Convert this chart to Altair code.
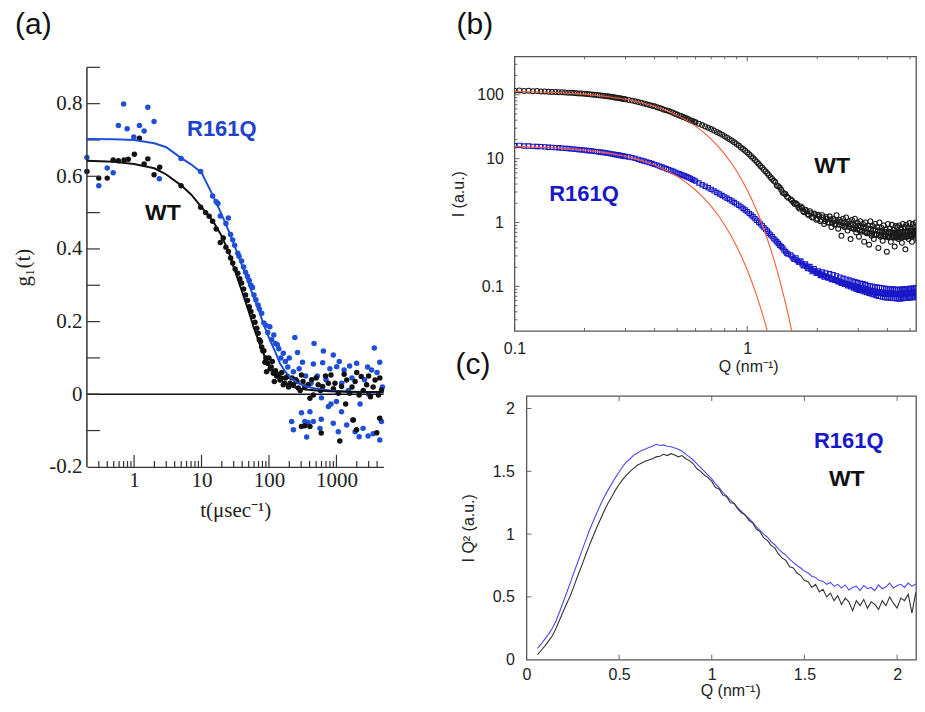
import altair as alt
import pandas as pd

# ================= Panel (a): DLS correlation g1(t) =================
a_t_wt = [0.2, 0.3, 0.4, 0.49, 0.585, 0.71, 0.82, 1.01, 1.2, 1.41, 1.6, 1.98, 2.4, 4.97, 9.7, 11.5, 13, 14.6, 16.5, 19,
          21, 23, 25, 27, 29, 31.5, 34.5, 37, 39.3, 42, 45, 48, 51, 54, 58.5, 62, 66, 69, 72, 75,
          78, 81, 84, 87, 90, 92, 95, 100, 104, 108, 112, 116, 120, 125, 130, 138, 146, 150, 155, 163,
          170, 175, 188, 195, 205, 220, 230, 250, 260, 272, 290, 303, 303, 320, 340, 340, 380, 405, 405, 430,
          455, 500, 535, 580, 595, 625, 690, 760, 830, 900, 950, 1065, 1120, 1190, 1300, 1370, 1420, 1570, 1700, 1780,
          1890, 1990, 2000, 2170, 2330, 2500, 2800, 3000, 3200, 3500, 3740, 3960, 4200, 4390, 4400, 4650]
a_g_wt = [0.613, 0.595, 0.595, 0.645, 0.643, 0.645, 0.647, 0.661, 0.705, 0.634, 0.648, 0.604, 0.625, 0.574, 0.515, 0.50, 0.49, 0.476, 0.455, 0.418,
          0.43, 0.405, 0.393, 0.375, 0.361, 0.345, 0.333, 0.318, 0.306, 0.29, 0.273, 0.258, 0.241, 0.228, 0.214, 0.198, 0.182, 0.168, 0.150, 0.145,
          0.13, 0.12, 0.12, 0.088, 0.10, 0.062, 0.085, 0.10, 0.07, 0.075, 0.09, 0.058, 0.035, 0.065, 0.05, 0.055, 0.039, 0.045, 0.06, 0.026,
          0.03, 0.045, 0.049, 0.02, 0.03, 0.045, 0.026, 0.04, 0.035, 0.017, 0.01, 0.053, -0.089, 0.035, 0.02, -0.087, 0.026, -0.011, -0.089, 0.04,
          -0.002, 0.045, 0.026, 0.01, -0.107, 0.021, 0.05, 0.030, 0.053, 0.015, 0.030, 0.003, -0.129, 0.021, 0.055, -0.027, 0.039, 0.003, 0.02, -0.071,
          0.035, -0.098, 0.06, -0.002, 0.049, 0.01, 0.026, 0.05, -0.007, 0.02, 0.039, -0.106, -0.002, -0.066, 0.045, 0.012]
a_t_mut = [0.2, 0.3, 0.4, 0.49, 0.585, 0.7, 0.79, 0.99, 1.2, 1.41, 1.6, 1.98, 2.37, 4.97, 9.7, 14.6, 16.5, 17.5, 19, 23,
           25, 27, 29, 31, 34.5, 36, 39.3, 42, 45, 48, 51, 54, 57, 60, 64, 69, 72, 78, 84, 90,
           96, 103, 110, 118, 125, 133, 140, 150, 163, 175, 190, 200, 217, 230, 230, 242, 265, 280, 303, 314,
           340, 350, 362, 380, 405, 420, 455, 455, 466, 520, 570, 595, 600, 625, 640, 700, 760, 800, 830, 897,
           898, 1000, 1010, 1065, 1100, 1190, 1200, 1300, 1420, 1500, 1570, 1700, 1740, 1890, 1990, 2170, 2240, 2480, 2600, 2900,
           2950, 3000, 3320, 3500, 3640, 4000, 4390, 4390, 4650, 4800]
a_g_mut = [0.652, 0.574, 0.623, 0.610, 0.740, 0.799, 0.731, 0.708, 0.740, 0.725, 0.790, 0.751, 0.593, 0.649, 0.613, 0.546, 0.53, 0.525, 0.491, 0.47,
           0.485, 0.44, 0.425, 0.41, 0.388, 0.38, 0.367, 0.35, 0.336, 0.325, 0.313, 0.30, 0.294, 0.273, 0.26, 0.246, 0.235, 0.223, 0.196, 0.19,
           0.17, 0.186, 0.15, 0.163, 0.14, 0.136, 0.125, 0.10, 0.113, 0.09, 0.075, 0.10, -0.075, 0.062, -0.098, 0.156, 0.115, 0.07, -0.051, 0.088,
           -0.075, 0.05, -0.118, -0.078, -0.048, 0.03, 0.083, -0.075, 0.140, 0.05, -0.094, -0.069, -0.01, 0.087, 0.119, 0.04, -0.034, 0.07, -0.027, -0.080,
           0.108, -0.02, 0.076, -0.103, 0.09, -0.048, 0.03, 0.067, -0.085, 0.01, 0.078, 0.045, -0.071, -0.103, 0.085, -0.117, -0.027, -0.094, 0.04, 0.075,
           -0.115, 0.0, 0.067, -0.109, 0.127, 0.06, 0.088, -0.126, -0.075, 0.02]
a_fit_t = [0.2, 0.5, 1, 2, 3, 5, 7, 10, 15, 20, 26, 30, 37, 45, 52, 60, 73, 85, 103, 125,
           145, 175, 210, 260, 350, 500, 800, 1500, 3000, 5000]
a_fit_mut = [0.703, 0.702, 0.700, 0.691, 0.680, 0.650, 0.633, 0.610, 0.544, 0.494, 0.444, 0.415, 0.370, 0.330, 0.296, 0.265, 0.223, 0.188, 0.150, 0.115,
             0.085, 0.062, 0.045, 0.032, 0.022, 0.015, 0.010, 0.007, 0.006, 0.005]
a_fit_wt = [0.643, 0.640, 0.634, 0.622, 0.605, 0.575, 0.550, 0.515, 0.475, 0.435, 0.385, 0.350, 0.300, 0.254, 0.219, 0.181, 0.138, 0.107, 0.075, 0.052,
            0.040, 0.030, 0.022, 0.017, 0.013, 0.010, 0.008, 0.007, 0.006, 0.006]
a_xlabels = [1, 10, 100, 1000]
a_xminor = [0.3, 0.4, 0.5, 0.6, 0.7, 0.8, 0.9, 2, 3, 4, 5, 6, 7, 8, 9, 20, 30, 40, 50, 60, 70, 80, 90,
            200, 300, 400, 500, 600, 700, 800, 900, 2000, 3000, 4000]
a_ylabels = [-0.2, 0, 0.2, 0.4, 0.6, 0.8]
a_yticks = [-0.1, 0, 0.1, 0.2, 0.3, 0.4, 0.5, 0.6, 0.7, 0.8, 0.9]

# ================= Panel (b): SAXS I(Q), log-log =================
b_q1 = [0.100, 0.105, 0.110, 0.115, 0.120, 0.125, 0.130, 0.135, 0.140, 0.145, 0.150, 0.155, 0.160, 0.165, 0.170, 0.175, 0.180, 0.185, 0.190, 0.195,
        0.200, 0.205, 0.210, 0.215, 0.220, 0.225, 0.230, 0.235, 0.240, 0.245, 0.250, 0.255, 0.260, 0.265, 0.270, 0.275, 0.280, 0.285, 0.290, 0.295, 0.300]
b_wt1 = [116, 117, 115, 116, 114, 115, 113, 113, 112, 111, 111, 110, 110, 109, 108, 108, 107, 106, 105, 105,
         104, 103, 102, 101, 100, 99.5, 98.5, 97.5, 97, 96, 95, 94, 93, 92, 91, 90, 89, 88, 87, 86, 85]
b_mut1 = [16.0, 16.1, 15.8, 15.8, 15.6, 15.5, 15.4, 15.3, 15.1, 15.0, 14.9, 14.8, 14.6, 14.5, 14.4, 14.2, 14.1, 14.0, 13.8, 13.7,
          13.6, 13.4, 13.3, 13.2, 13.0, 12.9, 12.8, 12.6, 12.5, 12.4, 12.2, 12.1, 11.9, 11.8, 11.6, 11.5, 11.4, 11.2, 11.1, 10.9, 10.8]
b_q2 = [0.31, 0.32, 0.33, 0.34, 0.35, 0.36, 0.37, 0.38, 0.39, 0.40, 0.41, 0.42, 0.43, 0.44, 0.45, 0.46, 0.47, 0.48, 0.49, 0.50,
        0.51, 0.52, 0.53, 0.54, 0.55, 0.56, 0.57, 0.58, 0.59, 0.60]
b_wt2 = [83, 81, 79, 77, 75, 73, 71, 69, 67.5, 66, 64, 62, 60.5, 58.5, 57, 55.5, 54, 52.5, 50.5, 49,
         47.5, 46.5, 45, 44, 42.5, 41.5, 40, 39, 38, 37]
b_mut2 = [10.6, 10.35, 10.1, 9.75, 9.45, 9.2, 8.9, 8.65, 8.4, 8.15, 7.9, 7.65, 7.4, 7.15, 6.95, 6.75, 6.55, 6.35, 6.15, 5.95,
          5.8, 5.65, 5.5, 5.35, 5.2, 5.05, 4.9, 4.75, 4.6, 4.45]
b_q3 = [0.62, 0.64, 0.66, 0.68, 0.70, 0.72, 0.74, 0.76, 0.78, 0.80, 0.82, 0.84, 0.86, 0.88, 0.90, 0.92, 0.94, 0.96, 0.98, 1.00,
        1.02, 1.04, 1.06, 1.08, 1.10, 1.12, 1.14, 1.16, 1.18, 1.20, 1.22, 1.24, 1.26, 1.28, 1.30, 1.32, 1.34, 1.36, 1.38, 1.40,
        1.42, 1.44, 1.46, 1.48, 1.50]
b_wt3 = [35.2, 33.5, 32, 30.5, 29, 27.6, 26.2, 24.9, 23.7, 22.5, 21.3, 20.2, 19.1, 18, 17, 16, 15, 14.1, 13.3, 12.5,
         11.7, 10.9, 10.2, 9.5, 8.9, 8.3, 7.7, 7.2, 6.7, 6.3, 5.9, 5.5, 5.1, 4.8, 4.5, 4.3, 3.8, 3.7, 3.55, 3.25,
         2.95, 2.85, 2.8, 2.55, 2.45]
b_mut3 = [4.15, 3.9, 3.7, 3.5, 3.3, 3.12, 2.95, 2.8, 2.65, 2.52, 2.4, 2.28, 2.17, 2.06, 1.96, 1.86, 1.76, 1.66, 1.57, 1.48,
          1.39, 1.31, 1.23, 1.15, 1.08, 1.01, 0.95, 0.89, 0.83, 0.78, 0.73, 0.68, 0.64, 0.60, 0.56, 0.53, 0.50, 0.47, 0.44, 0.42,
          0.40, 0.37, 0.35, 0.33, 0.32]
b_q4 = [1.54, 1.58, 1.62, 1.66, 1.70, 1.74, 1.78, 1.82, 1.86, 1.90, 1.94, 1.98, 2.02, 2.06, 2.10, 2.14, 2.18, 2.22, 2.26, 2.30,
        2.34, 2.38, 2.42, 2.46, 2.50, 2.54, 2.58, 2.62, 2.66, 2.70, 2.74, 2.78, 2.82, 2.86, 2.90, 2.94, 2.98, 3.02, 3.06, 3.10,
        3.14, 3.18, 3.22, 3.26, 3.30, 3.34, 3.38, 3.42, 3.46, 3.50, 3.54, 3.58, 3.62, 3.66, 3.70, 3.74, 3.78, 3.82, 3.86, 3.90,
        3.94, 3.98, 4.02, 4.06, 4.10, 4.14, 4.18, 4.22, 4.26, 4.30, 4.34, 4.38, 4.42, 4.46, 4.50, 4.54, 4.58, 4.62, 4.66, 4.70,
        4.74, 4.78, 4.82, 4.86, 4.90, 4.94, 4.98, 5.02, 5.06, 5.10, 5.14, 5.18, 5.22, 5.26, 5.30, 5.34, 5.38, 5.42, 5.46, 5.50,
        5.54, 5.58, 5.62, 5.66, 5.70, 5.74, 5.78]
b_wt4 = [2.3, 2.05, 2.0, 1.72, 1.78, 1.5, 1.58, 1.35, 1.5, 1.2, 1.38, 1.1, 1.32, 1.05, 1.3, 0.95, 1.22, 1.0, 1.25, 0.85,
         1.15, 0.92, 1.3, 0.8, 1.1, 0.62, 1.15, 0.85, 1.2, 0.75, 1.05, 0.55, 1.1, 0.8, 1.15, 0.7, 0.98, 0.6, 1.05, 0.72,
         0.95, 0.5, 1.0, 0.68, 0.9, 0.45, 1.05, 0.62, 0.88, 0.55, 0.95, 0.66, 0.85, 0.4, 1.0, 0.6, 0.82, 0.52, 0.9, 0.65,
         0.78, 0.35, 0.95, 0.58, 0.8, 0.5, 0.92, 0.63, 0.78, 0.42, 0.88, 0.6, 0.85, 0.55, 0.9, 0.65, 0.8, 0.48, 0.95, 0.62,
         0.85, 0.38, 0.92, 0.6, 0.82, 0.55, 0.98, 0.66, 0.8, 0.5, 0.95, 0.68, 0.85, 0.6, 1.0, 0.7, 0.88, 0.52, 0.95, 0.68,
         0.85, 0.62, 0.98, 0.72, 0.3, 0.9, 0.25]
b_mut4 = [0.31, 0.27, 0.28, 0.24, 0.25, 0.21, 0.225, 0.19, 0.205, 0.17, 0.19, 0.16, 0.175, 0.148, 0.168, 0.14, 0.162, 0.135, 0.158, 0.128,
          0.152, 0.124, 0.146, 0.118, 0.14, 0.112, 0.134, 0.108, 0.13, 0.102, 0.126, 0.098, 0.122, 0.094, 0.118, 0.09, 0.115, 0.087, 0.112, 0.085,
          0.11, 0.082, 0.107, 0.08, 0.104, 0.078, 0.102, 0.076, 0.1, 0.074, 0.098, 0.072, 0.097, 0.07, 0.096, 0.069, 0.095, 0.068, 0.094, 0.067,
          0.093, 0.066, 0.092, 0.066, 0.092, 0.065, 0.091, 0.065, 0.091, 0.065, 0.09, 0.064, 0.09, 0.064, 0.09, 0.064, 0.09, 0.064, 0.091, 0.065,
          0.091, 0.065, 0.092, 0.065, 0.092, 0.066, 0.093, 0.066, 0.093, 0.067, 0.094, 0.067, 0.094, 0.068, 0.095, 0.068, 0.096, 0.069, 0.096, 0.069,
          0.097, 0.07, 0.097, 0.07, 0.098, 0.148, 0.04]
b_q5 = [1.56, 1.60, 1.64, 1.68, 1.72, 1.76, 1.80, 1.84, 1.88, 1.92, 1.96, 2.00, 2.04, 2.08, 2.12, 2.16, 2.20, 2.24, 2.28, 2.32,
        2.36, 2.40, 2.44, 2.48, 2.52, 2.56, 2.60, 2.64, 2.68, 2.72, 2.76, 2.80, 2.84, 2.88, 2.92, 2.96, 3.00, 3.04, 3.08, 3.12,
        3.16, 3.20, 3.24, 3.28, 3.32, 3.36, 3.40, 3.44, 3.48, 3.52, 3.56, 3.60, 3.64, 3.68, 3.72, 3.76, 3.80, 3.84, 3.88, 3.92,
        3.96, 4.00, 4.04, 4.08, 4.12, 4.16, 4.20, 4.24, 4.28, 4.32, 4.36, 4.40, 4.44, 4.48, 4.52, 4.56, 4.60, 4.64, 4.68, 4.72,
        4.76, 4.80, 4.84, 4.88, 4.92, 4.96, 5.00, 5.04, 5.08, 5.12, 5.16, 5.20, 5.24, 5.28, 5.32, 5.36, 5.40, 5.44, 5.48, 5.52,
        5.56, 5.60, 5.64, 5.68, 5.72, 5.76]
b_wt5 = [2.2, 1.95, 1.9, 1.65, 1.7, 1.45, 1.5, 1.3, 1.4, 1.22, 1.3, 1.15, 1.25, 1.1, 1.2, 1.05, 1.15, 1.0, 1.12, 0.98,
         1.08, 0.95, 1.05, 0.92, 1.02, 0.9, 1.0, 0.88, 0.97, 0.86, 0.95, 0.82, 0.93, 0.8, 0.9, 0.78, 0.88, 0.76, 0.86, 0.74,
         0.84, 0.72, 0.82, 0.7, 0.8, 0.68, 0.79, 0.66, 0.77, 0.65, 0.76, 0.64, 0.75, 0.63, 0.74, 0.62, 0.73, 0.61, 0.72, 0.6,
         0.72, 0.6, 0.71, 0.59, 0.71, 0.59, 0.7, 0.58, 0.7, 0.58, 0.7, 0.58, 0.7, 0.58, 0.71, 0.59, 0.71, 0.59, 0.72, 0.6,
         0.72, 0.6, 0.73, 0.61, 0.73, 0.61, 0.74, 0.62, 0.74, 0.62, 0.75, 0.63, 0.75, 0.63, 0.76, 0.64, 0.76, 0.64, 0.77, 0.65,
         0.77, 0.65, 0.78, 0.66, 0.78, 0.66]
b_mut5 = [0.29, 0.265, 0.255, 0.24, 0.225, 0.215, 0.205, 0.195, 0.185, 0.178, 0.172, 0.165, 0.16, 0.155, 0.15, 0.146, 0.142, 0.138, 0.135, 0.132,
          0.128, 0.125, 0.122, 0.12, 0.117, 0.114, 0.112, 0.11, 0.108, 0.106, 0.104, 0.102, 0.1, 0.098, 0.096, 0.095, 0.093, 0.092, 0.09, 0.089,
          0.088, 0.087, 0.086, 0.085, 0.084, 0.083, 0.082, 0.082, 0.081, 0.08, 0.08, 0.079, 0.079, 0.078, 0.078, 0.077, 0.077, 0.077, 0.076, 0.076,
          0.076, 0.076, 0.075, 0.075, 0.075, 0.075, 0.075, 0.075, 0.075, 0.075, 0.075, 0.075, 0.075, 0.076, 0.076, 0.076, 0.076, 0.077, 0.077, 0.077,
          0.077, 0.078, 0.078, 0.078, 0.079, 0.079, 0.079, 0.08, 0.08, 0.08, 0.08, 0.081, 0.081, 0.081, 0.082, 0.082, 0.082, 0.083, 0.083, 0.083,
          0.084, 0.084, 0.084, 0.085, 0.085, 0.085]
b_fit_q_wt = [0.1, 0.15, 0.2, 0.25, 0.3, 0.35, 0.4, 0.45, 0.5, 0.55, 0.6, 0.65, 0.7, 0.75, 0.8, 0.85, 0.9, 0.95, 1.0, 1.05,
              1.1, 1.15, 1.2, 1.25, 1.3, 1.35, 1.4, 1.45, 1.5, 1.55, 1.6]
b_fit_wt = [113.8, 108.8, 102.4, 94.2, 85.3, 75.9, 66.3, 56.9, 48.0, 39.7, 32.3, 25.8, 20.2, 15.6, 11.8, 8.76, 6.39, 4.58, 3.22, 2.23,
            1.51, 1.01, 0.662, 0.425, 0.269, 0.167, 0.101, 0.061, 0.0358, 0.0207, 0.0117]
b_fit_q_mut = [0.1, 0.15, 0.2, 0.25, 0.3, 0.35, 0.4, 0.45, 0.5, 0.55, 0.6, 0.65, 0.7, 0.75, 0.8, 0.85, 0.9, 0.95, 1.0, 1.05,
               1.1, 1.15, 1.2, 1.25]
b_fit_mut = [15.58, 14.73, 13.62, 12.30, 10.87, 9.39, 7.93, 6.55, 5.29, 4.18, 3.23, 2.44, 1.80, 1.30, 0.915, 0.631, 0.426, 0.281, 0.181, 0.114,
             0.0704, 0.0424, 0.025, 0.0144]
b_xlabels = [0.1, 1]
b_xminor = [0.2, 0.3, 0.4, 0.5, 0.6, 0.7, 0.8, 0.9, 2, 3, 4, 5]
b_ylabels = [0.1, 1, 10, 100]
b_yminor = [0.03, 0.04, 0.05, 0.06, 0.07, 0.08, 0.09, 0.2, 0.3, 0.4, 0.5, 0.6, 0.7, 0.8, 0.9, 2, 3, 4, 5, 6, 7, 8, 9,
            20, 30, 40, 50, 60, 70, 80, 90, 200, 300]

# ================= Panel (c): Kratky I*Q^2 =================
c_q = [0.06, 0.08, 0.10, 0.12, 0.14, 0.16, 0.18, 0.20, 0.22, 0.24, 0.26, 0.28, 0.30, 0.32, 0.34, 0.36, 0.38, 0.40, 0.42, 0.44,
       0.46, 0.48, 0.50, 0.52, 0.54, 0.56, 0.58, 0.60, 0.62, 0.64, 0.66, 0.68, 0.70, 0.72, 0.74, 0.76, 0.78, 0.80, 0.82, 0.84,
       0.86, 0.88, 0.90, 0.92, 0.94, 0.96, 0.98, 1.00, 1.02, 1.04, 1.06, 1.08, 1.10, 1.12, 1.14, 1.16, 1.18, 1.20, 1.22, 1.24,
       1.26, 1.28, 1.30, 1.32, 1.34, 1.36, 1.38, 1.40, 1.42, 1.44, 1.46, 1.48, 1.50, 1.52, 1.54, 1.56, 1.58, 1.60, 1.62, 1.64,
       1.66, 1.68, 1.70, 1.72, 1.74, 1.76, 1.78, 1.80, 1.82, 1.84, 1.86, 1.88, 1.90, 1.92, 1.94, 1.96, 1.98, 2.00, 2.02, 2.04,
       2.06, 2.08, 2.10, 2.12, 2.14, 2.16, 2.18, 2.20]
c_mut = [0.09, 0.125, 0.165, 0.205, 0.25, 0.31, 0.385, 0.465, 0.545, 0.625,
         0.71, 0.79, 0.87, 0.95, 1.03, 1.10, 1.17, 1.235, 1.295, 1.35,
         1.40, 1.45, 1.495, 1.54, 1.575, 1.60, 1.63, 1.645, 1.665, 1.675,
         1.69, 1.70, 1.715, 1.705, 1.71, 1.70, 1.695, 1.685, 1.675, 1.66,
         1.635, 1.615, 1.59, 1.56, 1.53, 1.50, 1.47, 1.44, 1.40, 1.37,
         1.33, 1.305, 1.27, 1.245, 1.21, 1.18, 1.15, 1.125, 1.095, 1.06,
         1.03, 1.0, 0.975, 0.94, 0.915, 0.88, 0.855, 0.83, 0.80, 0.775,
         0.75, 0.73, 0.705, 0.69, 0.665, 0.655, 0.63, 0.625, 0.60, 0.615,
         0.585, 0.60, 0.57, 0.595, 0.555, 0.575, 0.585, 0.55, 0.59, 0.565,
         0.575, 0.55, 0.595, 0.565, 0.58, 0.61, 0.57, 0.59, 0.60, 0.575,
         0.61, 0.585, 0.6, 0.625, 0.59, 0.615, 0.64, 0.6]
c_wt = [0.04, 0.075, 0.11, 0.15, 0.19, 0.25, 0.32, 0.39, 0.455, 0.52,
        0.60, 0.68, 0.755, 0.835, 0.91, 0.985, 1.055, 1.12, 1.185, 1.245,
        1.295, 1.35, 1.395, 1.435, 1.47, 1.50, 1.525, 1.55, 1.565, 1.58,
        1.59, 1.60, 1.615, 1.62, 1.635, 1.625, 1.64, 1.63, 1.615, 1.625,
        1.60, 1.585, 1.56, 1.52, 1.50, 1.47, 1.45, 1.42, 1.37, 1.36,
        1.31, 1.30, 1.25, 1.245, 1.20, 1.17, 1.155, 1.11, 1.09, 1.04,
        1.02, 0.97, 0.95, 0.91, 0.89, 0.84, 0.81, 0.79, 0.74, 0.73,
        0.69, 0.67, 0.63, 0.62, 0.575, 0.60, 0.54, 0.56, 0.50, 0.53,
        0.47, 0.51, 0.44, 0.49, 0.46, 0.39, 0.47, 0.43, 0.48, 0.41,
        0.46, 0.44, 0.40, 0.47, 0.43, 0.50, 0.45, 0.41, 0.49, 0.47,
        0.52, 0.37, 0.53, 0.50, 0.56, 0.49, 0.58, 0.55]
c_ticks = [0, 0.5, 1, 1.5, 2]

# ================= styling =================
SANS = "Liberation Sans"
SERIF = "Liberation Serif"
INK = "#222222"
BLACK = "#111111"
BLUE_A = "#1f4fd8"
BLUE_A_TXT = "#2042c8"
BLUE_B = "#1818c8"
BLUE_C = "#4a4af0"
RED = "#ff5a3c"
FRAME = "#555555"
TICK = "#666666"


def frame(**cols):
    return pd.DataFrame(cols)


# ---------------- panel (a) ----------------
AW, AH = 297, 411
xa = alt.Scale(type="log", domain=[0.2, 5000], nice=False)
ya = alt.Scale(domain=[-0.2, 0.9303], nice=False, zero=False)
ax_ax = alt.Axis(values=a_xlabels, format="d", title="t(μsec⁻¹)", ticks=False, grid=False,
                 domainColor="#333333", domainWidth=1.5, labelFont=SERIF, labelFontSize=21,
                 labelColor=INK, labelPadding=3, labelFlush=False, titleFont=SERIF,
                 titleFontSize=21, titleFontWeight="normal", titleColor=INK, titlePadding=9)
ay_ax = alt.Axis(values=a_ylabels,
                 labelExpr="datum.value < 0 ? '-' + format(-datum.value, '.1f') : (datum.value == 0 ? '0' : format(datum.value, '.1f'))",
                 title="g₁(t)", ticks=False, grid=False, domain=False, labelFont=SERIF,
                 labelFontSize=21, labelColor=INK, labelPadding=5, labelFlush=False,
                 titleFont=SERIF, titleFontSize=21, titleFontWeight="normal", titleColor=INK,
                 titlePadding=15, titleY=211)

XA = alt.X("t:Q", scale=xa, axis=ax_ax)
YA = alt.Y("g:Q", scale=ya, axis=ay_ax)

a_axisline = alt.Chart(frame(g=[-0.2], g2=[0.9])).mark_rule(color="#333333", strokeWidth=1.5).encode(
    x=alt.value(0), y=YA, y2="g2:Q")
a_zero = alt.Chart(frame(g=[0])).mark_rule(color=BLACK, strokeWidth=1.5).encode(y=YA)
a_yt = alt.Chart(frame(g=a_yticks)).mark_rule(color="#333333", strokeWidth=1.2).encode(
    y=YA, x=alt.value(0), x2=alt.value(13))
a_xt_major = alt.Chart(frame(t=a_xlabels)).mark_rule(color="#333333", strokeWidth=1.2).encode(
    x=XA, y=alt.value(AH), y2=alt.value(AH - 12))
a_xt_minor = alt.Chart(frame(t=a_xminor)).mark_rule(color="#333333", strokeWidth=1.2).encode(
    x=XA, y=alt.value(AH), y2=alt.value(AH - 6))
a_pts_mut = alt.Chart(frame(t=a_t_mut, g=a_g_mut)).mark_circle(size=30, color=BLUE_A, opacity=1).encode(x=XA, y=YA)
a_pts_wt = alt.Chart(frame(t=a_t_wt, g=a_g_wt)).mark_circle(size=30, color=BLACK, opacity=1).encode(x=XA, y=YA)
a_line_mut = alt.Chart(frame(t=a_fit_t, g=a_fit_mut)).mark_line(color=BLUE_A, strokeWidth=2).encode(x=XA, y=YA)
a_line_wt = alt.Chart(frame(t=a_fit_t, g=a_fit_wt)).mark_line(color=BLACK, strokeWidth=2).encode(x=XA, y=YA)
a_txt_mut = alt.Chart(frame(t=[6.1], g=[0.731], s=["R161Q"])).mark_text(
    align="left", baseline="middle", font=SANS, fontWeight="bold", fontSize=22, color=BLUE_A_TXT
).encode(x=XA, y=YA, text="s:N")
a_txt_wt = alt.Chart(frame(t=[1.456], g=[0.498], s=["WT"])).mark_text(
    align="left", baseline="middle", font=SANS, fontWeight="bold", fontSize=23, color=BLACK
).encode(x=XA, y=YA, text="s:N")

panel_a = alt.layer(
    a_pts_mut, a_pts_wt, a_axisline, a_zero, a_yt, a_xt_major, a_xt_minor,
    a_line_mut, a_line_wt, a_txt_mut, a_txt_wt
).properties(
    width=AW, height=AH,
    title=alt.TitleParams("(a)", anchor="start", frame="group", font=SANS, fontSize=30,
                          fontWeight="normal", color=BLACK, dx=-72, dy=8, offset=0,
                          baseline="alphabetic"),
)

# ---------------- panel (b) ----------------
BW, BH = 402, 275
xb = alt.Scale(type="log", domain=[0.1, 5.31], nice=False)
yb = alt.Scale(type="log", domain=[0.02, 400], nice=False)
axb_x = alt.Axis(values=b_xlabels, format="~g", title="Q (nm⁻¹)", ticks=False, grid=False, domain=False,
                 labelFont=SANS, labelFontSize=16, labelColor=INK, labelPadding=9, labelFlush=False,
                 titleFont=SANS, titleFontSize=16, titleFontWeight="normal", titleColor=INK, titlePadding=3,
                 titleX=234)
axb_y = alt.Axis(values=b_ylabels, format="~g", title="I (a.u.)", ticks=False, grid=False, domain=False,
                 labelFont=SANS, labelFontSize=16, labelColor=INK, labelPadding=11, labelFlush=False,
                 titleFont=SANS, titleFontSize=16, titleFontWeight="normal", titleColor=INK, titlePadding=10)
XB = alt.X("Q:Q", scale=xb, axis=axb_x)
YB = alt.Y("I:Q", scale=yb, axis=axb_y)

b_q_all = b_q1 + b_q2 + b_q3 + b_q4 + b_q5
b_wt = b_wt1 + b_wt2 + b_wt3 + b_wt4 + b_wt5
b_mut = b_mut1 + b_mut2 + b_mut3 + b_mut4 + b_mut5

b_pts_mut = alt.Chart(frame(Q=b_q_all, I=b_mut)).mark_point(
    shape="square", filled=False, size=18, strokeWidth=1.1, color=BLUE_B, opacity=1, clip=True
).encode(x=XB, y=YB)
b_pts_wt = alt.Chart(frame(Q=b_q_all, I=b_wt)).mark_point(
    shape="circle", filled=False, size=24, strokeWidth=1.1, color="#1a1a1a", opacity=1, clip=True
).encode(x=XB, y=YB)
b_fit_wt_l = alt.Chart(frame(Q=b_fit_q_wt, I=b_fit_wt)).mark_line(color=RED, strokeWidth=1.1, clip=True).encode(x=XB, y=YB)
b_fit_mut_l = alt.Chart(frame(Q=b_fit_q_mut, I=b_fit_mut)).mark_line(color=RED, strokeWidth=1.1, clip=True).encode(x=XB, y=YB)
b_txt_wt = alt.Chart(frame(Q=[1.94], I=[7.55], s=["WT"])).mark_text(
    align="left", baseline="middle", font=SANS, fontWeight="bold", fontSize=23, color=BLACK
).encode(x=XB, y=YB, text="s:N")
b_txt_mut = alt.Chart(frame(Q=[0.141], I=[2.81], s=["R161Q"])).mark_text(
    align="left", baseline="middle", font=SANS, fontWeight="bold", fontSize=22, color=BLUE_B
).encode(x=XB, y=YB, text="s:N")
b_ticks = [
    alt.Chart(frame(Q=[1])).mark_rule(color=TICK).encode(x=XB, y=alt.value(BH), y2=alt.value(BH - 5)),
    alt.Chart(frame(Q=[1])).mark_rule(color=TICK).encode(x=XB, y=alt.value(0), y2=alt.value(5)),
    alt.Chart(frame(Q=b_xminor)).mark_rule(color=TICK).encode(x=XB, y=alt.value(BH), y2=alt.value(BH - 3)),
    alt.Chart(frame(Q=b_xminor)).mark_rule(color=TICK).encode(x=XB, y=alt.value(0), y2=alt.value(3)),
    alt.Chart(frame(I=b_ylabels)).mark_rule(color=TICK).encode(y=YB, x=alt.value(0), x2=alt.value(5)),
    alt.Chart(frame(I=b_yminor)).mark_rule(color=TICK).encode(y=YB, x=alt.value(0), x2=alt.value(3)),
]

panel_b = alt.layer(
    b_pts_mut, b_pts_wt, b_fit_wt_l, b_fit_mut_l, *b_ticks, b_txt_wt, b_txt_mut
).properties(
    width=BW, height=BH,
    view=alt.ViewBackground(stroke=FRAME, strokeWidth=1.3),
    title=alt.TitleParams("(b)", anchor="start", frame="group", font=SANS, fontSize=30,
                          fontWeight="normal", color=BLACK, dx=-58, dy=8, offset=0,
                          baseline="alphabetic"),
)

# ---------------- panel (c) ----------------
CW, CH = 390, 264
xc = alt.Scale(domain=[0, 2.102], nice=False, zero=False)
yc = alt.Scale(domain=[0, 2.1], nice=False, zero=False)
axc_x = alt.Axis(values=c_ticks, format="~g", title="Q (nm⁻¹)", ticks=False, grid=False, domain=False,
                 labelFont=SANS, labelFontSize=16, labelColor=INK, labelPadding=7, labelFlush=False,
                 titleFont=SANS, titleFontSize=16, titleFontWeight="normal", titleColor=INK, titlePadding=0,
                 titleX=204)
axc_y = alt.Axis(values=c_ticks, format="~g", title="I Q² (a.u.)", ticks=False, grid=False, domain=False,
                 labelFont=SANS, labelFontSize=16, labelColor=INK, labelPadding=12, labelFlush=False,
                 titleFont=SANS, titleFontSize=16, titleFontWeight="normal", titleColor=INK, titlePadding=16)
XC = alt.X("Q:Q", scale=xc, axis=axc_x)
YC = alt.Y("v:Q", scale=yc, axis=axc_y)

c_line_mut = alt.Chart(frame(Q=c_q, v=c_mut)).mark_line(color=BLUE_C, strokeWidth=1.1, clip=True).encode(x=XC, y=YC)
c_line_wt = alt.Chart(frame(Q=c_q, v=c_wt)).mark_line(color="#333333", strokeWidth=1.1, clip=True).encode(x=XC, y=YC)
c_txt_mut = alt.Chart(frame(Q=[1.551], v=[1.742], s=["R161Q"])).mark_text(
    align="left", baseline="middle", font=SANS, fontWeight="bold", fontSize=22, color=BLUE_B
).encode(x=XC, y=YC, text="s:N")
c_txt_wt = alt.Chart(frame(Q=[1.632], v=[1.435], s=["WT"])).mark_text(
    align="left", baseline="middle", font=SANS, fontWeight="bold", fontSize=23, color=BLACK
).encode(x=XC, y=YC, text="s:N")
c_tick_vals = [0.5, 1, 1.5, 2]
c_ticks_l = [
    alt.Chart(frame(Q=c_tick_vals)).mark_rule(color=TICK).encode(x=XC, y=alt.value(CH), y2=alt.value(CH - 5)),
    alt.Chart(frame(Q=c_tick_vals)).mark_rule(color=TICK).encode(x=XC, y=alt.value(0), y2=alt.value(5)),
    alt.Chart(frame(v=c_tick_vals)).mark_rule(color=TICK).encode(y=YC, x=alt.value(0), x2=alt.value(5)),
]

panel_c = alt.layer(
    c_line_mut, c_line_wt, *c_ticks_l, c_txt_mut, c_txt_wt
).properties(
    width=CW, height=CH,
    view=alt.ViewBackground(stroke=FRAME, strokeWidth=1.3),
    title=alt.TitleParams("(c)", anchor="start", frame="group", font=SANS, fontSize=30,
                          fontWeight="normal", color=BLACK, dx=-71, dy=9, offset=0,
                          baseline="alphabetic"),
)


def spacer(w, h):
    return alt.Chart(frame(s=[0])).mark_point(opacity=0).encode(
        x=alt.X("s:Q", axis=None), y=alt.Y("s:Q", axis=None)
    ).properties(width=w, height=h)


c_group = alt.hconcat(spacer(12, 10), panel_c, spacing=0, bounds="flush")
right_col = alt.vconcat(panel_b, c_group, spacing=65, bounds="flush")

chart = alt.hconcat(panel_a, right_col, spacing=131, bounds="flush").properties(
    padding={"left": 4, "top": 0, "right": 0, "bottom": 0},
    background="white",
).configure_view(strokeWidth=0)

chart.save("out.html", embed_options={"renderer": "svg", "actions": False})
